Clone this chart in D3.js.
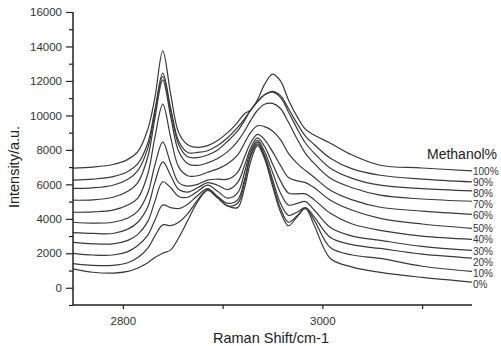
<!DOCTYPE html>
<html><head><meta charset="utf-8">
<script src="https://cdn.jsdelivr.net/npm/d3@7"></script>
<style>body{margin:0;background:#fff}svg text{font-family:"Liberation Sans",Arial,sans-serif}</style>
</head><body><svg id="c" width="501" height="346"></svg>
<script>
// Raman shift grid (cm-1)
const wavenumbers = [2750,2770,2790,2805,2815,2825,2832,2840,2848,2856,2865,2875,2885,2895,2905,2915,2922,2928,2935,2942,2950,2958,2966,2975,2983,2992,3008,3030,3058,3100,3150];
// intensities (a.u.) for each methanol fraction
const m100 = [6940,7000,7150,7450,7900,9200,11000,13750,11200,9000,8300,8150,8250,8550,9000,9600,10100,10300,10900,11800,12400,12000,10900,9900,9200,8850,8390,7700,7110,6950,6780];
const m90  = [6240,6300,6450,6750,7200,8400,10300,12450,10400,8500,7850,7850,7950,8250,8700,9300,9800,10300,10800,11200,11400,11150,10400,9500,8800,8300,7520,6900,6530,6300,6140];
const m80  = [5770,5800,5950,6300,6800,8100,10100,12250,10200,8300,7600,7550,7700,8000,8500,9100,9700,10300,10800,11200,11350,11050,10200,9200,8400,7800,6940,6350,5950,5750,5620];
const m70  = [5080,5100,5250,5600,6100,7600,9800,12050,9900,7900,7200,7100,7250,7500,7900,8500,9100,9700,10300,10650,10700,10400,9600,8600,7800,7200,6350,5800,5370,5150,5020];
const m60  = [4380,4400,4500,4800,5200,6600,8700,10650,8700,7000,6500,6500,6700,6900,7200,7700,8400,9000,9400,9350,9100,8600,7800,7200,6800,6400,5660,5100,4670,4450,4260];
const m50  = [3800,3750,3800,4050,4450,5500,7100,8450,7200,6100,5900,6000,6250,6300,6300,6700,7600,8400,8900,8600,7900,7100,6400,6200,6100,5800,5080,4500,4030,3700,3450];
const m40  = [3200,3150,3150,3400,3800,4700,6100,7300,6500,5700,5550,5800,6100,5950,5700,6100,7100,8100,8700,8200,7200,6200,5500,5450,5450,5100,4320,3700,3330,3000,2810];
const m30  = [2630,2550,2550,2750,3100,3850,5000,6150,5800,5300,5250,5600,5950,5600,5200,5500,6700,7900,8550,7900,6700,5500,4800,4900,5000,4500,3500,3000,2750,2400,2170];
const m20  = [2000,1900,1900,2100,2450,3050,3900,4800,4650,4600,4850,5350,5750,5300,4900,5100,6300,7700,8450,7700,6300,4900,4200,4400,4650,4100,2920,2500,2280,1950,1720];
const m10  = [1400,1300,1300,1450,1750,2300,3000,3650,3600,3800,4300,5100,5700,5250,4750,4900,6100,7600,8350,7600,6100,4600,3800,4200,4600,3900,2340,1900,1700,1250,950];
const m0   = [1100,900,850,950,1150,1450,1750,2000,2200,2900,3900,5000,5650,5200,4750,4650,5800,7300,8250,7500,5900,4400,3600,4150,4600,3600,1700,1200,890,600,330];
const seriesLabels = ["0%","10%","20%","30%","40%","50%","60%","70%","80%","90%","100%"];
const seriesValues = [m0,m10,m20,m30,m40,m50,m60,m70,m80,m90,m100];
const yMajorTicks = [0,2000,4000,6000,8000,10000,12000,14000,16000];
const yMinorTicks = [-1000,1000,3000,5000,7000,9000,11000,13000,15000];
const xTicks = [2800,2900,3000,3100];
const xTickLabels = [2800,3000];

const svg = d3.select("#c");
const x = d3.scaleLinear().domain([2750,3150]).range([73,472]);
const y = d3.scaleLinear().domain([-1000,16000]).range([305,12]);

const line = d3.line().x((d,i)=>x(wavenumbers[i])).y(d=>y(d)).curve(d3.curveCatmullRom.alpha(0.5));

svg.append("g").selectAll("path").data(seriesValues).join("path")
  .attr("d", d=>line(d)).attr("fill","none").attr("stroke","#3a3a3a").attr("stroke-width",1.2);

// axes
const yAx = svg.append("g").attr("transform","translate(73,0)")
  .call(d3.axisLeft(y).tickValues(yMajorTicks).tickSize(7).tickPadding(4).tickFormat(d3.format("d")));
svg.append("g").attr("transform","translate(73,0)")
  .call(d3.axisLeft(y).tickValues(yMinorTicks).tickSize(4).tickFormat(""))
  .call(g=>g.select(".domain").remove());
const xAx = svg.append("g").attr("transform","translate(0,305)")
  .call(d3.axisBottom(x).tickValues(xTicks).tickSize(4).tickPadding(8).tickFormat(d=>xTickLabels.includes(d)?d:""));
svg.selectAll(".domain").attr("stroke","#222").attr("stroke-width",1.5);
svg.selectAll(".tick line").attr("stroke","#222").attr("stroke-width",1.2);
svg.selectAll(".tick text").attr("font-size","11.5px").attr("fill","#333")
  .attr("font-family","'Liberation Sans',Arial,sans-serif");
yAx.select(".domain").attr("d","M0,12V305");
xAx.select(".domain").attr("d","M73,0H472");

// axis titles
svg.append("text").attr("x",271).attr("y",343).attr("text-anchor","middle")
  .attr("font-size","14.5px").attr("fill","#222").text("Raman Shift/cm-1");
svg.append("text").attr("transform","translate(19,167) rotate(-90)").attr("text-anchor","middle")
  .attr("font-size","14.5px").attr("fill","#222").text("Intensity/a.u.");

// series labels at the right end of each curve, nudged apart so they don't collide
const labelPos = seriesValues.map((d,i)=>({i, y: y(d[d.length-1]) + 1.5}))
  .sort((a,b)=>a.y-b.y);
for (let k=1;k<labelPos.length;k++) labelPos[k].y = Math.max(labelPos[k].y, labelPos[k-1].y + 11);
svg.append("g").selectAll("text").data(labelPos).join("text")
  .attr("x",x(3150)+1).attr("y",d=>d.y)
  .attr("dominant-baseline","middle").attr("font-size","10px").attr("fill","#333")
  .text(d=>seriesLabels[d.i]);
svg.append("text").attr("x",427).attr("y",159).attr("font-size","14px").attr("fill","#222").text("Methanol%");
</script></body></html>
